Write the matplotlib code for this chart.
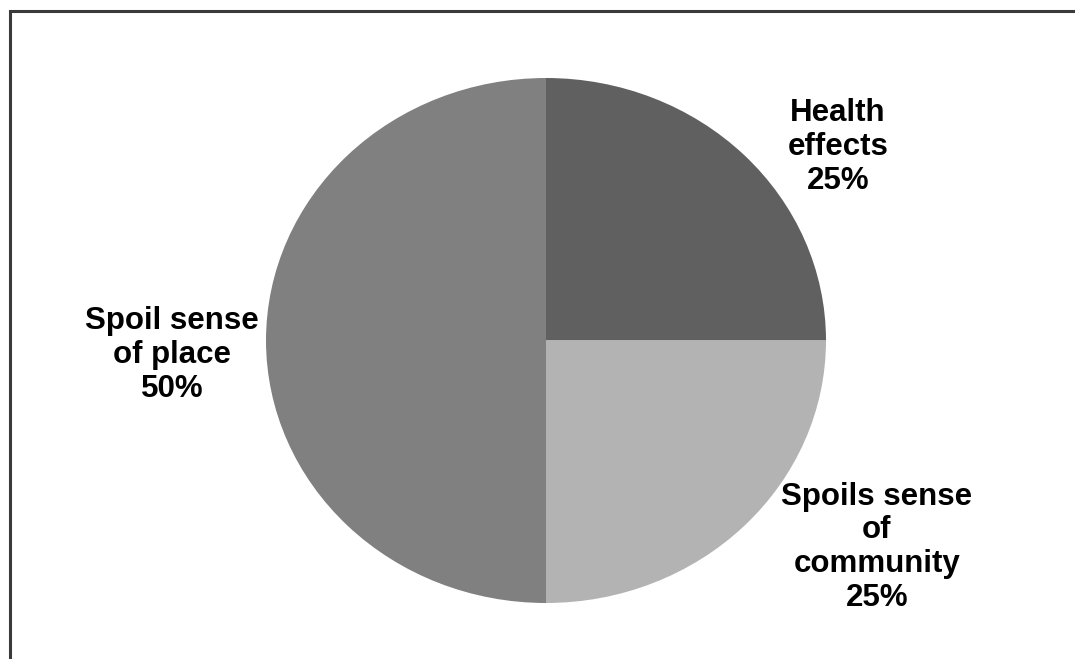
import matplotlib.pyplot as plt
from matplotlib.patches import Rectangle

# slice data, clockwise from 12 o'clock
categories = ["Health\neffects", "Spoils sense\nof\ncommunity", "Spoil sense\nof place"]
shares = [25, 25, 50]
colors = ["#606060", "#b3b3b3", "#808080"]

# label anchor points in pie units (x, y)
label_pos = [(1.043, 0.737), (1.182, -0.787), (-1.336, -0.055)]

W, H = 1075, 659
fig = plt.figure(figsize=(W / 100, H / 100), dpi=100)

# outer chart frame (only top/left edges fall inside the image)
fig.patches.append(Rectangle((9.5 / W, -0.2), 1.2, 0.2 + (H - 11.5) / H,
                             transform=fig.transFigure,
                             fill=False, edgecolor="#3a3a3a", linewidth=2.2))

# pie is drawn slightly wider than tall
cx, cy, rx, ry = 546, 340.5, 280, 262.5
ax = fig.add_axes([(cx - rx) / W, (H - cy - ry) / H, 2 * rx / W, 2 * ry / H])
ax.pie(shares, colors=colors, startangle=90, counterclock=False,
       wedgeprops=dict(linewidth=0))
ax.set_aspect("auto")
ax.set_xlim(-1, 1)
ax.set_ylim(-1, 1)
ax.axis("off")

for name, pct, (x, y) in zip(categories, shares, label_pos):
    ax.text(x, y, f"{name}\n{pct}%", ha="center", va="center",
            fontsize=22.5, fontweight="bold", family="Liberation Sans",
            linespacing=1.16, clip_on=False)

fig.savefig("out.png", dpi=100)
